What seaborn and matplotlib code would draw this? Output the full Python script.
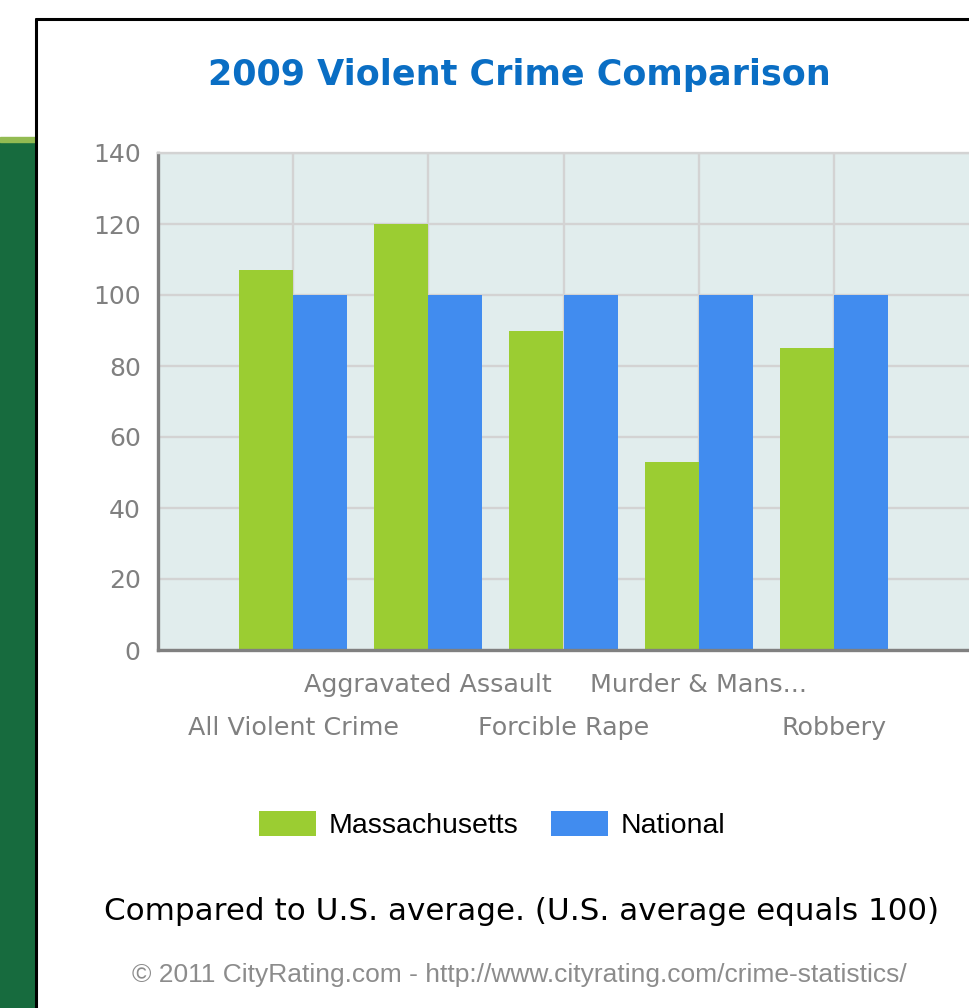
import matplotlib
matplotlib.use('Agg')
import pandas as pd
import matplotlib.pyplot as plt
import seaborn as sns
from matplotlib.patches import Rectangle
from matplotlib.lines import Line2D

# Chart data
categories = ['All Violent Crime', 'Aggravated Assault', 'Forcible Rape',
              'Murder & Mans...', 'Robbery']
massachusetts = [107, 120, 90, 53, 85]
national = [100, 100, 100, 100, 100]
series_names = ['Massachusetts', 'National']
y_ticks = [0, 20, 40, 60, 80, 100, 120, 140]

GREEN = '#9BCD32'
BLUE = '#418CEF'
GRID = '#D3D3D3'
AXIS = '#808080'

df = pd.DataFrame({
    'Crime': categories * 2,
    'Index': massachusetts + national,
    'Area': [series_names[0]] * len(categories) + [series_names[1]] * len(categories),
})

sns.set_style('white')
plt.rcParams['font.family'] = ['DejaVu Sans']

fig = plt.figure(figsize=(9.69, 10.08), dpi=100)

# page decoration: green strip on the left, black frame
fig.patches.append(Rectangle((0, 0), 35 / 969, 1 - 142 / 1008,
                             transform=fig.transFigure, color='#176B3E', zorder=0))
fig.patches.append(Rectangle((0, 1 - 142 / 1008), 35 / 969, 5 / 1008,
                             transform=fig.transFigure, color='#93BB52', zorder=0))
fig.lines.append(Line2D([36 / 969, 36 / 969], [0, 1 - 19 / 1008],
                        transform=fig.transFigure, color='black', lw=2.2))
fig.lines.append(Line2D([36 / 969, 1], [1 - 19 / 1008, 1 - 19 / 1008],
                        transform=fig.transFigure, color='black', lw=2.2))

ax = fig.add_axes([158 / 969, 1 - 650 / 1008, 811 / 969, 497 / 1008])
ax.set_facecolor('#E1EDED')

sns.barplot(data=df, x='Crime', y='Index', hue='Area', palette=[GREEN, BLUE],
            saturation=1, width=0.8, linewidth=0, errorbar=None, ax=ax)

ax.set_xlim(-1, 5)
ax.set_ylim(0, 140)
ax.set_xlabel('')
ax.set_ylabel('')

# staggered category labels: odd ones on major ticks, even ones on minor ticks
ax.set_xticks([-1] + list(range(1, len(categories), 2)))
ax.set_xticklabels([''] + categories[1::2])
ax.set_xticks(list(range(0, len(categories), 2)), minor=True)
ax.set_xticklabels(categories[0::2], minor=True)
ax.set_yticks(y_ticks)

ax.tick_params(axis='x', which='both', length=6.5, width=2.2, color=AXIS,
               labelcolor=AXIS, labelsize=18.3)
ax.tick_params(axis='x', which='major', pad=10)
ax.tick_params(axis='x', which='minor', pad=41)
ax.tick_params(axis='y', length=6.5, width=2.2, color=AXIS, labelcolor=AXIS,
               labelsize=18, pad=6)

ax.set_axisbelow(True)
ax.yaxis.grid(True, color=GRID, lw=1.7)
ax.xaxis.grid(True, which='both', color=GRID, lw=1.7)

for side in ['left', 'bottom']:
    ax.spines[side].set_color(AXIS)
    ax.spines[side].set_linewidth(2.4)
ax.spines['top'].set_color(GRID)
ax.spines['top'].set_linewidth(1.7)
ax.spines['right'].set_visible(False)

handles, labels = ax.get_legend_handles_labels()
ax.get_legend().remove()
fig.legend(handles, labels, loc='center', bbox_to_anchor=(0.508, 1 - 825 / 1008),
           ncol=2, frameon=False, handlelength=2.0, handleheight=0.95,
           handletextpad=0.45, columnspacing=1.15, labelcolor='black',
           prop={'family': ['Liberation Sans Narrow', 'Liberation Sans', 'DejaVu Sans'],
                 'size': 20.5})

fig.text(0.5356, 1 - 75 / 1008, '2009 Violent Crime Comparison', ha='center',
         va='center', fontsize=25.2, fontweight='bold', color='#0A6EC4')
fig.text(0.5387, 1 - 912 / 1008, 'Compared to U.S. average. (U.S. average equals 100)',
         ha='center', va='center', fontsize=22.3, color='black')
fig.text(0.5356, 1 - 975 / 1008,
         '© 2011 CityRating.com - http://www.cityrating.com/crime-statistics/',
         ha='center', va='center', fontsize=19, color='#8C8C8C',
         family=['Liberation Sans', 'DejaVu Sans'])

fig.savefig('out.png', dpi=100)
